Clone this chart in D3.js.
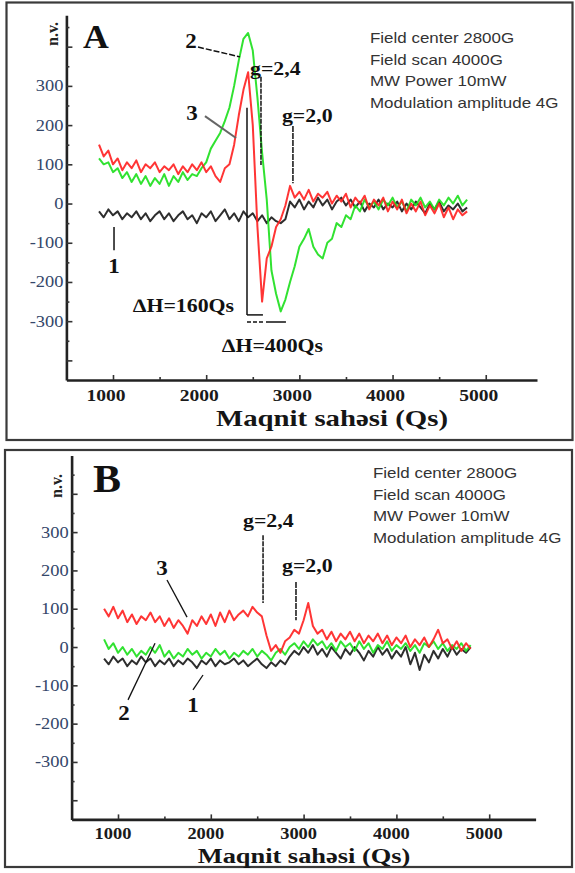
<!DOCTYPE html>
<html><head><meta charset="utf-8">
<script src="https://cdn.jsdelivr.net/npm/d3@7"></script>
<style>html,body{margin:0;padding:0;background:#fff;} svg{display:block;}</style>
</head><body>
<svg id="c" width="575" height="873"></svg>
<script>
// ---------- data ----------
const fields = [850,900,950,1000,1050,1100,1150,1200,1250,1300,
  1350,1400,1450,1500,1550,1600,1650,1700,1750,1800,
  1850,1900,1950,2000,2050,2100,2150,2200,2250,2300,
  2350,2400,2450,2500,2550,2600,2650,2700,2750,2800,
  2850,2900,2950,3000,3050,3100,3150,3200,3250,3300,
  3350,3400,3450,3500,3550,3600,3650,3700,3750,3800,
  3850,3900,3950,4000,4050,4100,4150,4200,4250,4300,
  4350,4400,4450,4500,4550,4600,4650,4700,4750,4800];

// Panel A
const aBlack = [-20,-35,-15,-30,-20,-40,-25,-35,-20,-40,
  -25,-45,-30,-20,-40,-25,-45,-30,-20,-40,
  -30,-50,-25,-35,-20,-45,-30,-15,-40,-25,
  -45,-20,-35,-25,-45,-30,-50,-35,-45,-50,
  -40,5,-10,10,-15,5,-10,15,-5,10,
  -15,5,15,-5,10,-10,5,-20,0,-10,
  10,-15,0,-10,5,-20,0,-15,5,-10,
  -25,0,-15,5,-20,-5,-15,0,-20,-10];
const aGreen = [115,100,105,80,90,65,80,55,75,50,
  70,45,65,50,75,45,70,55,80,60,
  75,70,90,105,140,160,180,210,245,300,
  365,420,435,390,270,130,10,-170,-230,-275,
  -245,-200,-160,-110,-90,-65,-110,-130,-140,-100,
  -90,-50,-60,-30,-40,-5,-20,10,-10,5,
  -15,10,-5,15,-10,5,-20,10,-5,15,
  -10,5,-15,10,-5,15,0,20,-5,10];
const aRed = [150,120,135,100,115,85,105,90,110,80,
  100,90,105,80,95,85,100,75,95,80,
  100,85,105,80,95,70,55,90,100,150,
  225,290,335,200,-60,-250,-140,-110,-60,-40,
  -5,45,15,30,10,35,5,25,15,30,
  0,20,5,25,-10,15,0,20,-15,10,
  -5,15,-20,5,-15,10,-25,0,-20,5,
  -30,-5,-25,0,-35,-10,-40,-15,-30,-20];

// Panel B
const bBlack = [-30,-45,-25,-40,-30,-50,-35,-45,-25,-40,
  -30,-50,-35,-45,-30,-50,-35,-45,-30,-40,
  -55,-35,-45,-30,-50,-35,-45,-40,-30,-45,
  -35,-50,-40,-30,-45,-55,-40,-50,-35,-45,
  -25,-10,-20,0,-15,5,-20,-5,-25,0,
  -15,-30,-5,-20,0,-15,-35,-10,-25,0,
  -20,-5,-30,-10,-25,0,-45,-15,-60,-20,
  -40,-10,-30,-5,-25,0,-20,-5,-15,0];
const bGreen = [20,-5,10,-15,0,-20,-5,-25,-10,-20,
  0,-15,5,-25,-10,-30,-15,-25,-5,-20,
  -10,-30,-15,-25,-5,-20,-10,-30,-15,-25,
  -10,-20,-5,-25,-10,-20,-35,-15,-5,-20,
  0,10,-5,15,0,20,5,15,-5,10,
  -10,15,0,10,-10,15,-5,10,-15,5,
  -5,15,-10,5,-5,10,-10,5,-15,10,
  0,15,-5,10,-10,5,-5,10,-10,5];
const bRed = [100,80,105,75,95,65,85,60,80,70,
  90,65,80,55,75,50,70,55,35,70,
  55,80,60,85,55,90,65,95,70,85,
  95,80,105,90,80,30,-10,5,-15,15,
  25,45,35,70,115,55,35,45,20,40,
  15,35,20,40,15,35,10,30,15,35,
  10,30,5,25,10,30,0,20,5,25,
  0,20,45,10,20,-5,15,-10,10,-5];

const xMajor = [1000,2000,3000,4000,5000];
const xMinor = [1500,2500,3500,4500];
const xTickLabels = ['1000','2000','3000','4000','5000'];
const yMajor = [-400,-300,-200,-100,0,100,200,300,400];
const yMinor = [-350,-250,-150,-50,50,150,250,350,450];
const yLabelValues = [300,200,100,0,-100,-200,-300];
const yTickLabels = ['300','200','100','0','-100','-200','-300'];
const settings = ['Field center 2800G','Field scan 4000G','MW Power 10mW','Modulation amplitude 4G'];
const xTitle = 'Maqnit sahəsi (Qs)';
const yTitle = 'n.v.';

// ---------- drawing ----------
const SERIF = '"Liberation Serif","Times New Roman",serif';
const SANS = '"Liberation Sans",Arial,sans-serif';
const SX = 1.15;
const svg = d3.select('#c');
svg.append('rect').attr('width',575).attr('height',873).attr('fill','#fff');

function txt(g, x, y, s, o) {
  o = o || {};
  const sx = o.sx || SX;
  return g.append('text')
    .attr('transform', `translate(${x},${y})` + (o.rot ? ` rotate(${o.rot})` : '') + ` scale(${sx},1)`)
    .attr('text-anchor', o.anchor || 'start')
    .attr('font-family', o.family || SERIF)
    .attr('font-size', o.size || 16)
    .attr('font-weight', o.weight || 'normal')
    .attr('fill', o.fill || '#111')
    .text(s);
}

function drawPanel(p) {
  const g = svg.append('g');
  g.append('rect').attr('x', p.frame[0]).attr('y', p.frame[1])
    .attr('width', p.frame[2]).attr('height', p.frame[3])
    .attr('fill', 'none').attr('stroke', '#3a3a3a').attr('stroke-width', 2.2);

  const x = d3.scaleLinear().domain(p.xDomain).range(p.xRange);
  const y = d3.scaleLinear().domain(p.yDomain).range(p.yRange);
  const yBase = p.yRange[0], xBase = p.xRange[0];

  // data lines
  const line = d3.line().x(d => x(d[0])).y(d => y(d[1]));
  p.series.forEach(s => {
    g.append('path').datum(fields.map((f, i) => [f, s.values[i]]))
      .attr('d', line).attr('fill', 'none').attr('stroke', s.color)
      .attr('stroke-width', 2).attr('stroke-linejoin', 'round').attr('opacity', 0.92);
  });

  // axes
  const styleAxis = sel => {
    sel.select('.domain').attr('stroke', '#222').attr('stroke-width', 2.6);
    sel.selectAll('.tick line').attr('stroke', '#333').attr('stroke-width', 1.6);
  };
  g.append('g').attr('transform', `translate(0,${yBase})`)
    .call(d3.axisBottom(x).tickValues(xMajor).tickSize(-5).tickSizeOuter(0).tickFormat(''))
    .call(styleAxis);
  g.append('g').attr('transform', `translate(0,${yBase})`)
    .call(d3.axisBottom(x).tickValues(xMinor).tickSize(-3).tickSizeOuter(0).tickFormat(''))
    .call(styleAxis).select('.domain').remove();
  g.append('g').attr('transform', `translate(${xBase},0)`)
    .call(d3.axisLeft(y).tickValues(yMajor).tickSize(-6).tickSizeOuter(0).tickFormat(''))
    .call(styleAxis);
  g.append('g').attr('transform', `translate(${xBase},0)`)
    .call(d3.axisLeft(y).tickValues(yMinor.filter(v => v < p.yDomain[1])).tickSize(-3).tickSizeOuter(0).tickFormat(''))
    .call(styleAxis).select('.domain').remove();

  // tick labels
  xMajor.forEach((v, i) => txt(g, x(v) + p.xLabelShift, yBase + p.xLabelDy, xTickLabels[i],
    { anchor: 'middle', size: p.xLabelSize, weight: 'bold', fill: '#1a1a1a' }));
  yLabelValues.forEach((v, i) => txt(g, xBase - 3, y(v) + 5.5, yTickLabels[i],
    { anchor: 'end', size: 16, fill: '#34476a' }));

  // titles
  txt(g, p.xTitlePos[0], p.xTitlePos[1], xTitle, { anchor: 'middle', size: p.xTitleSize, weight: 'bold', fill: '#151515', sx: 1.2 });
  txt(g, p.yTitlePos[0], p.yTitlePos[1], yTitle, { anchor: 'middle', size: 16, weight: 'bold', rot: -90, sx: 1, fill: '#222' });
  txt(g, x(p.letter[1]), y(p.letter[2]), p.letter[0], { size: p.letter[3], weight: 'bold', sx: 1.05, fill: '#111' });

  // settings block
  settings.forEach((s, i) => txt(g, p.settingsPos[0], p.settingsPos[1] + i * 21.5, s,
    { family: SANS, size: 15, fill: '#333', sx: 1.13 }));

  // annotations
  p.annLines.forEach(a => {
    g.append('line').attr('x1', x(a.f1)).attr('y1', y(a.v1)).attr('x2', x(a.f2)).attr('y2', y(a.v2))
      .attr('stroke', a.color || '#111').attr('stroke-width', a.w || 1.5)
      .attr('stroke-dasharray', a.dash || null);
  });
  p.annTexts.forEach(a => {
    txt(g, x(a.f), y(a.v), a.s, { anchor: a.anchor || 'start', size: a.size || 19, weight: 'bold', fill: '#111' });
  });
}

drawPanel({
  frame: [6.5, 2.5, 566, 437.5],
  xDomain: [500, 5550], xRange: [66.4, 537],
  yDomain: [-450, 480], yRange: [380, 15.3],
  xLabelShift: -7, xLabelDy: 21, xLabelSize: 17,
  xTitlePos: [332, 426], xTitleSize: 24, yTitlePos: [58, 34],
  letter: ['A', 678, 397, 34],
  settingsPos: [370, 43],
  series: [
    { values: aBlack, color: '#1c1c1c' },
    { values: aGreen, color: '#1fe01f' },
    { values: aRed, color: '#ff2424' }
  ],
  annLines: [
    { f1: 1912, v1: 399, f2: 2363, v2: 374, dash: '6,2' },
    { f1: 1987, v1: 223, f2: 2320, v2: 167, color: '#666', w: 2 },
    { f1: 2588, v1: 323, f2: 2588, v2: 98, dash: '5,1' },
    { f1: 2438, v1: 244, f2: 2438, v2: -284 },
    { f1: 2438, v1: -284, f2: 2609, v2: -284 },
    { f1: 2438, v1: -302, f2: 2856, v2: -302, dash: '4,2,4,2,4,3,40' },
    { f1: 2931, v1: 198, f2: 2931, v2: 52, dash: '6,1' },
    { f1: 1011, v1: -60, f2: 1011, v2: -119 }
  ],
  annTexts: [
    { s: '2', f: 1837, v: 397, anchor: 'middle', size: 20 },
    { s: '3', f: 1848, v: 213, anchor: 'middle', size: 20 },
    { s: 'g=2,4', f: 2470, v: 328 },
    { s: 'g=2,0', f: 2813, v: 208 },
    { s: '1', f: 1011, v: -177, anchor: 'middle', size: 20 },
    { s: '∆H=160Qs', f: 1215, v: -277 },
    { s: '∆H=400Qs', f: 2170, v: -379 }
  ]
});

drawPanel({
  frame: [5, 450, 567, 417],
  xDomain: [500, 5500], xRange: [71.6, 535.6],
  yDomain: [-450, 500], yRange: [819.4, 455.5],
  xLabelShift: -5, xLabelDy: 19.5, xLabelSize: 16,
  xTitlePos: [304, 863], xTitleSize: 22, yTitlePos: [62, 486],
  letter: ['B', 731, 405, 40],
  settingsPos: [373, 478],
  series: [
    { values: bBlack, color: '#1c1c1c' },
    { values: bGreen, color: '#1fe01f' },
    { values: bRed, color: '#ff2424' }
  ],
  annLines: [
    { f1: 1528, v1: 175, f2: 1744, v2: 78, w: 1.3 },
    { f1: 2563, v1: 292, f2: 2563, v2: 115, dash: '5,1' },
    { f1: 2918, v1: 170, f2: 2918, v2: 70, dash: '6,1' },
    { f1: 1108, v1: -138, f2: 1399, v2: 10, w: 1.3 },
    { f1: 1808, v1: -112, f2: 1916, v2: -73, w: 1.3 }
  ],
  annTexts: [
    { s: '3', f: 1474, v: 188, anchor: 'middle', size: 20 },
    { s: 'g=2,4', f: 2347, v: 313 },
    { s: 'g=2,0', f: 2767, v: 196 },
    { s: '2', f: 1065, v: -191, anchor: 'middle', size: 20 },
    { s: '1', f: 1808, v: -170, anchor: 'middle', size: 20 }
  ]
});
</script>
</body></html>
